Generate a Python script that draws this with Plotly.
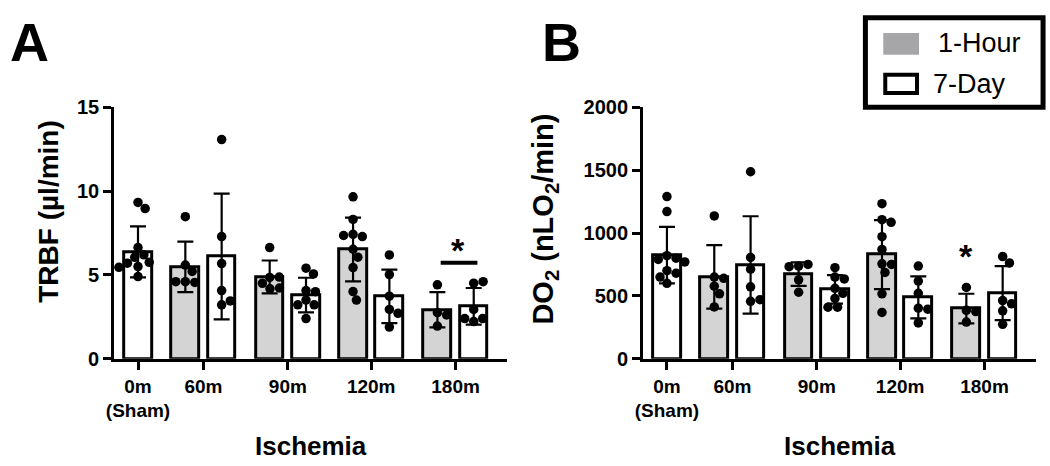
import plotly.graph_objects as go

# ---------------- data ----------------
group_labels = ["0m<br>(Sham)", "60m", "90m", "120m", "180m"]
bar_group = [0, 1, 1, 2, 2, 3, 3, 4, 4]
bar_series = ["Sham", "1-Hour", "7-Day", "1-Hour", "7-Day", "1-Hour", "7-Day", "1-Hour", "7-Day"]

trbf_mean = [6.37, 5.48, 6.10, 4.88, 3.80, 6.52, 3.72, 2.92, 3.13]
trbf_sd = [1.52, 1.50, 3.75, 0.98, 1.03, 1.90, 1.60, 1.05, 1.09]
trbf_points = [
    [9.32, 8.96, 6.63, 6.20, 6.05, 5.75, 5.70, 5.50, 5.45, 4.90],
    [8.47, 5.59, 5.21, 4.60, 4.55, 4.60],
    [13.07, 7.29, 5.68, 4.07, 3.22, 3.45],
    [6.63, 4.85, 4.87, 4.50, 4.17, 4.22],
    [5.40, 5.06, 4.07, 4.00, 3.50, 3.22, 3.22, 2.40],
    [9.66, 8.31, 7.42, 7.29, 7.35, 6.53, 6.06, 5.44, 4.01, 3.50],
    [6.19, 5.02, 3.73, 2.94, 2.71, 1.89],
    [4.41, 2.75, 2.61, 1.95],
    [4.51, 4.60, 2.94, 2.22, 2.40, 2.40],
]

do2_mean = [824, 651, 746, 673, 552, 828, 488, 399, 522]
do2_sd = [225, 253, 387, 93, 113, 274, 167, 118, 214]
do2_points = [
    [1290, 1170, 820, 800, 790, 770, 700, 680, 650, 600],
    [1136, 650, 640, 577, 516, 412],
    [1487, 806, 712, 572, 457, 470],
    [737, 750, 732, 628, 529],
    [724, 650, 635, 560, 520, 480, 410, 410],
    [1233, 1106, 1085, 971, 869, 755, 750, 686, 516, 368],
    [737, 618, 521, 402, 394, 285],
    [567, 385, 375, 292],
    [813, 762, 463, 437, 381, 274],
]

legend_labels = ["1-Hour", "7-Day"]
panel_letters = ["A", "B"]
y_titles = ["TRBF (\u00b5l/min)", "DO<sub>2</sub> (nLO<sub>2</sub>/min)"]
x_title = "Ischemia"

# ---------------- layout constants ----------------
W, H = 1050, 466
FONT = "Liberation Sans, Arial, sans-serif"
GRAY_BAR = "#d4d4d4"
GRAY_LEG = "#a6a6a9"
group_pos = [24, 90, 175, 259, 344]
pair_off = 18.3
bar_w = 28
X_RANGE = [0, 396]
ydom = [1 - 365 / H, 1 - 101 / H]
xdomA = [107 / W, 503 / W]
xdomB = [640 / W, 1036 / W]


def px(xp):
    return xp / W


def py(yp):
    return 1 - yp / H


def bar_x(i):
    g = group_pos[bar_group[i]]
    s = bar_series[i]
    if s == "Sham":
        return g
    return g - pair_off if s == "1-Hour" else g + pair_off


def swarm(values, yscale, dot=9.6):
    placed = []
    for v in values:
        yp = v * yscale
        cands = [0.0]
        for (qx, qy) in placed:
            dy = yp - qy
            if abs(dy) < dot:
                h = (dot ** 2 - dy ** 2) ** 0.5
                cands += [qx + h, qx - h]
        cands.sort(key=abs)
        for c in cands:
            if all((c - qx) ** 2 + (yp - qy) ** 2 >= dot ** 2 - 1e-6 for qx, qy in placed):
                placed.append((c, yp))
                break
    return [p[0] for p in placed]


fig = go.Figure()

panels = [
    ("x", "y", trbf_mean, trbf_sd, trbf_points, 264 / 15),
    ("x2", "y2", do2_mean, do2_sd, do2_points, 264 / 2000),
]

for xa, ya, means, sds, pts, yscale in panels:
    xs = [bar_x(i) for i in range(len(means))]
    colors = [GRAY_BAR if s == "1-Hour" else "white" for s in bar_series]
    fig.add_trace(go.Bar(
        x=xs, y=means, width=bar_w, xaxis=xa, yaxis=ya,
        marker=dict(color=colors, line=dict(color="black", width=3)),
        error_y=dict(type="data", array=sds, visible=True, color="black",
                     thickness=2.2, width=8),
        showlegend=False, hoverinfo="skip",
    ))
    dx, dy = [], []
    for i, vals in enumerate(pts):
        offs = swarm(vals, yscale)
        dx += [xs[i] + o for o in offs]
        dy += vals
    fig.add_trace(go.Scatter(
        x=dx, y=dy, mode="markers", xaxis=xa, yaxis=ya,
        marker=dict(color="black", size=9.5, line=dict(width=0)),
        showlegend=False, hoverinfo="skip", cliponaxis=False,
    ))

axis_common = dict(showline=True, linecolor="black", linewidth=3, ticks="outside",
                   ticklen=8, tickwidth=3, tickcolor="black", showgrid=False,
                   zeroline=False, fixedrange=True)
xfont = dict(family=FONT, size=19, color="black", weight="bold")
yfont = dict(family=FONT, size=20, color="black", weight="bold")

fig.update_layout(
    width=W, height=H, margin=dict(l=0, r=0, t=0, b=0),
    paper_bgcolor="white", plot_bgcolor="white", bargap=0,
    showlegend=False,
    xaxis=dict(domain=xdomA, range=X_RANGE, anchor="y", tickvals=group_pos,
               ticktext=group_labels, tickfont=xfont, **axis_common),
    yaxis=dict(domain=ydom, range=[0, 15], anchor="x", tickvals=[0, 5, 10, 15],
               tickfont=yfont, **axis_common),
    xaxis2=dict(domain=xdomB, range=X_RANGE, anchor="y2", tickvals=group_pos,
                ticktext=group_labels, tickfont=xfont, **axis_common),
    yaxis2=dict(domain=ydom, range=[0, 2000], anchor="x2",
                tickvals=[0, 500, 1000, 1500, 2000], tickfont=yfont, **axis_common),
)

ann = []
shapes = []
# panel letters
for letter, xc in zip(panel_letters, [22, 558]):
    ann.append(dict(text=letter, x=px(xc), y=py(33), xref="paper", yref="paper",
                    showarrow=False, xanchor="center", yanchor="middle",
                    font=dict(family=FONT, size=54, color="black", weight="bold")))
# y titles
for t, xc, yc, fs in zip(y_titles, [40, 541], [210, 218], [28, 29]):
    ann.append(dict(text=t, x=px(xc), y=py(yc), xref="paper", yref="paper",
                    showarrow=False, textangle=-90, xanchor="center", yanchor="middle",
                    font=dict(family=FONT, size=fs, color="black", weight="bold")))
# x titles
for xc in [305, 838]:
    ann.append(dict(text=x_title, x=px(xc), y=py(457), xref="paper", yref="paper",
                    showarrow=False, xanchor="center", yanchor="middle",
                    font=dict(family=FONT, size=26, color="black", weight="bold")))

# significance marks
shapes.append(dict(type="line", xref="x", yref="y", x0=329, x1=366, y0=5.72, y1=5.72,
                   line=dict(color="black", width=4)))
ann.append(dict(text="*", x=346, y=5.25, xref="x", yref="y", showarrow=False,
                xanchor="center", yanchor="bottom",
                font=dict(family=FONT, size=34, color="black", weight="bold")))
ann.append(dict(text="*", x=group_pos[4] - pair_off, y=650, xref="x2", yref="y2",
                showarrow=False, xanchor="center", yanchor="bottom",
                font=dict(family=FONT, size=34, color="black", weight="bold")))

# legend box
shapes.append(dict(type="rect", xref="paper", yref="paper", x0=px(864), x1=px(1043),
                   y0=py(101), y1=py(7), line=dict(color="black", width=5),
                   fillcolor="white"))
shapes.append(dict(type="rect", xref="paper", yref="paper", x0=px(882), x1=px(918),
                   y0=py(46), y1=py(23), line=dict(width=0), fillcolor=GRAY_LEG))
shapes.append(dict(type="rect", xref="paper", yref="paper", x0=px(884), x1=px(916),
                   y0=py(86), y1=py(67), line=dict(color="black", width=4),
                   fillcolor="white"))
for lab, xl, yc in zip(legend_labels, [935, 930], [34, 77]):
    ann.append(dict(text=lab, x=px(xl), y=py(yc), xref="paper", yref="paper",
                    showarrow=False, xanchor="left", yanchor="middle",
                    font=dict(family=FONT, size=27, color="black")))

fig.update_layout(annotations=ann, shapes=shapes)
fig.write_html("out.html", post_script="document.body.style.margin='0px';",
               config={"displayModeBar": False})
